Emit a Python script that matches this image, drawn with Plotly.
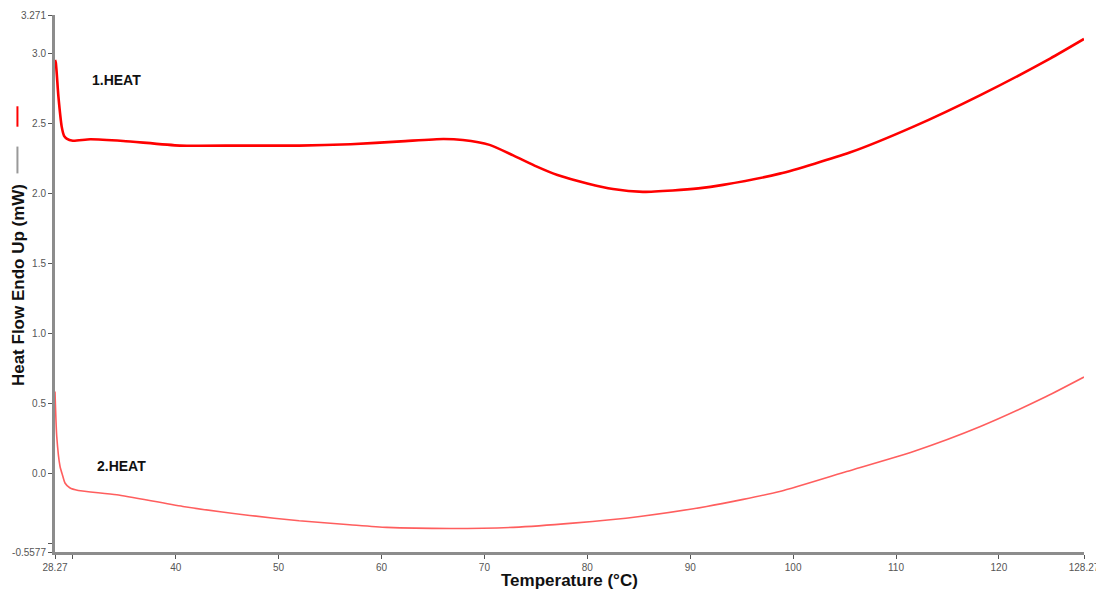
import plotly.graph_objects as go

# First heating run
heat1_temp = [28.27, 28.35, 28.6, 28.92, 29.15, 29.4, 30.0, 31.7, 34.9, 40.4, 46.3,
              52.0, 57.0, 61.9, 66.0, 67.9, 70.5, 72.8, 75.1, 77.1, 80.0, 82.5,
              85.4, 88.3, 90.8, 93.2, 98.7, 105.5, 111.7, 118.2, 124.97, 128.27]
heat1_flow = [2.95, 2.93, 2.69, 2.475, 2.41, 2.39, 2.375, 2.385, 2.373, 2.34, 2.34,
              2.34, 2.35, 2.37, 2.387, 2.38, 2.345, 2.27, 2.19, 2.13, 2.07, 2.03,
              2.01, 2.02, 2.035, 2.06, 2.14, 2.29, 2.475, 2.70, 2.96, 3.10]

# Second heating run
heat2_temp = [28.27, 28.44, 28.76, 29.0, 29.24, 29.7, 30.53, 34.27, 40.7, 47.2, 52.0,
              56.9, 60.5, 66.7, 72.8, 78.6, 85.1, 91.6, 98.7, 105.2, 111.7, 118.2,
              124.6, 128.27]
heat2_flow = [0.587, 0.266, 0.052, -0.01, -0.066, -0.1, -0.119, -0.15, -0.233, -0.297,
              -0.335, -0.363, -0.382, -0.39, -0.382, -0.352, -0.304, -0.233, -0.126,
              0.016, 0.159, 0.337, 0.551, 0.69]

x_tickvals = [28.27, 30, 40, 50, 60, 70, 80, 90, 100, 110, 120, 128.27]
x_ticktext = ["28.27", "", "40", "50", "60", "70", "80", "90", "100", "110", "120", "128.27"]
y_tickvals = [-0.5577, -0.5, 0.0, 0.5, 1.0, 1.5, 2.0, 2.5, 3.0, 3.271]
y_ticktext = ["-0.5577", "", "0.0", "0.5", "1.0", "1.5", "2.0", "2.5", "3.0", "3.271"]

FONT = "Liberation Sans, Arial, sans-serif"
AXIS_GREY = "#8c8c8c"

fig = go.Figure()
fig.add_trace(go.Scatter(x=heat1_temp, y=heat1_flow, mode="lines",
                         line=dict(color="#ff0000", width=2.6, shape="spline",
                                   smoothing=0.6), name="1.HEAT"))
fig.add_trace(go.Scatter(x=heat2_temp, y=heat2_flow, mode="lines",
                         line=dict(color="rgba(255,40,40,0.75)", width=1.6,
                                   shape="spline", smoothing=0.6), name="2.HEAT"))

axis_common = dict(showgrid=False, zeroline=False, showline=True, linecolor=AXIS_GREY,
                   linewidth=3, ticks="outside", ticklen=4, tickwidth=1,
                   tickcolor="#555555", ticklabeloverflow="allow", automargin=False,
                   tickfont=dict(family=FONT, size=10, color="#555555"))

fig.update_xaxes(range=[28.27, 128.27], tickvals=x_tickvals, ticktext=x_ticktext,
                 **axis_common)
fig.update_yaxes(range=[-0.5577, 3.271], tickvals=y_tickvals, ticktext=y_ticktext,
                 **axis_common)

fig.add_annotation(text="<b>1.HEAT</b>", x=34.2, y=2.81, xref="x", yref="y",
                   showarrow=False, font=dict(family=FONT, size=14, color="#111111"))
fig.add_annotation(text="<b>2.HEAT</b>", x=34.7, y=0.057, xref="x", yref="y",
                   showarrow=False, font=dict(family=FONT, size=14, color="#111111"))

# Axis titles
fig.add_annotation(text="<b>Temperature (°C)</b>", x=0.5, y=-0.054, xref="paper",
                   yref="paper", showarrow=False, yanchor="middle",
                   font=dict(family=FONT, size=17, color="#111111"))
fig.add_annotation(text="<b>Heat Flow Endo Up (mW)</b>", x=-0.036, y=0.497,
                   xref="paper", yref="paper", showarrow=False, textangle=-90,
                   xanchor="center", yanchor="middle",
                   font=dict(family=FONT, size=17, color="#111111"))

# Small line keys beside the y title
fig.add_shape(type="line", xref="paper", yref="paper", x0=-0.0365, x1=-0.0365,
              y0=0.792, y1=0.83, line=dict(color="#ff0000", width=2))
fig.add_shape(type="line", xref="paper", yref="paper", x0=-0.0365, x1=-0.0365,
              y0=0.705, y1=0.755, line=dict(color="#999999", width=2))

fig.update_layout(width=1096, height=598, margin=dict(l=55, r=12, t=15, b=46),
                  plot_bgcolor="white", paper_bgcolor="white", showlegend=False)

fig.write_html("out.html")
